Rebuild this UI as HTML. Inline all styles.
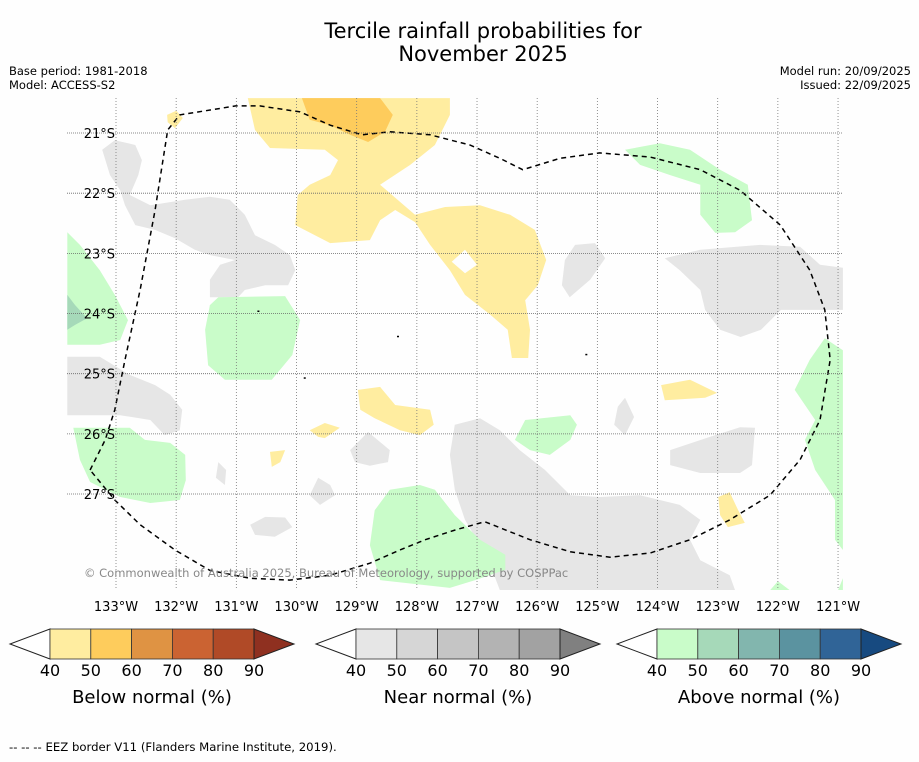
<!DOCTYPE html>
<html><head><meta charset="utf-8">
<style>
html,body{margin:0;padding:0;background:#fefefe;}
body{width:919px;height:758px;overflow:hidden;font-family:"DejaVu Sans","Liberation Sans",sans-serif;}
svg text{font-family:"DejaVu Sans","Liberation Sans",sans-serif;}
</style></head>
<body>
<svg id="chart" width="919" height="758" viewBox="0 0 919 758" xmlns="http://www.w3.org/2000/svg">
<rect x="0" y="0" width="919" height="758" fill="#fefefe"/>
<text x="483" y="38" font-size="21" text-anchor="middle">Tercile rainfall probabilities for</text>
<text x="483" y="61" font-size="21" text-anchor="middle">November 2025</text>
<text x="9" y="75" font-size="11.5">Base period: 1981-2018</text>
<text x="9" y="89" font-size="11.5">Model: ACCESS-S2</text>
<text x="911" y="75" font-size="11.5" text-anchor="end">Model run: 20/09/2025</text>
<text x="911" y="89" font-size="11.5" text-anchor="end">Issued: 22/09/2025</text>
<g id="map"></g>
<g id="legends"></g>
<text x="9" y="751" font-size="11.7">--  --  -- EEZ border V11 (Flanders Marine Institute, 2019).</text>
</svg>
<script>
// axis ticks
const lonTicks = [133,132,131,130,129,128,127,126,125,124,123,122,121];
const latTicks = [21,22,23,24,25,26,27];
const cbTicks = [40,50,60,70,80,90];
const belowColors = ["#ffeda0","#fecc5c","#df9343","#cb6332","#b04a27","#8f3020"];
const nearColors = ["#e6e6e6","#d6d6d6","#c5c5c5","#b3b3b3","#a2a2a2","#808080"];
const aboveColors = ["#c9fcc9","#a6d9b9","#82b6ae","#5b93a0","#306497","#174a80"];
// polygons in [lonW, latS]
const yellowBig = [[130.81,20.42],[127.45,20.42],[127.45,20.70],[127.70,21.20],[128.11,21.53],[128.61,21.86],[128.03,22.36],[127.53,22.23],[126.95,22.20],[126.45,22.36],[126.04,22.61],[125.85,23.11],[125.99,23.53],[126.20,23.78],[126.12,24.27],[126.15,24.74],[126.42,24.74],[126.49,24.27],[126.78,24.02],[127.20,23.69],[127.45,23.28],[127.78,22.86],[128.03,22.48],[128.36,22.28],[128.61,22.45],[128.78,22.78],[129.44,22.83],[130.02,22.53],[129.98,22.03],[129.78,21.86],[129.44,21.70],[129.31,21.45],[129.53,21.28],[130.44,21.25],[130.69,20.95]];
const holeYellow = [[127.42,23.14],[127.20,22.94],[127.00,23.19],[127.20,23.33]];
const orangeTop = [[129.91,20.42],[128.61,20.42],[128.40,20.70],[128.53,20.98],[128.81,21.15],[129.11,21.03],[129.44,20.87],[129.78,20.78]];
const yellowSmall = [
 [[132.15,20.70],[132.0,20.63],[131.89,20.75],[132.02,20.92],[132.14,20.82]],
 [[123.94,25.19],[123.46,25.10],[123.01,25.32],[123.21,25.40],[123.88,25.44]],
 [[128.98,25.27],[128.61,25.22],[128.36,25.52],[127.78,25.60],[127.72,25.85],[127.95,26.02],[128.28,25.94],[128.70,25.74],[128.94,25.60]],
 [[129.78,25.94],[129.53,25.82],[129.28,25.90],[129.53,26.07],[129.64,26.05]],
 [[130.44,26.30],[130.19,26.27],[130.27,26.47],[130.41,26.55]],
 [[122.99,27.05],[122.80,26.97],[122.66,27.27],[122.55,27.48],[122.83,27.55],[122.96,27.35]]
];
const greyAreas = [
 [[133.23,21.28],[133.02,21.12],[132.68,21.20],[132.57,21.45],[132.63,21.70],[132.77,22.03],[132.43,22.20],[131.85,22.11],[131.44,22.06],[131.11,22.11],[130.86,22.36],[130.69,22.70],[130.36,22.86],[130.11,23.03],[130.02,23.28],[130.14,23.53],[130.52,23.53],[130.86,23.61],[130.97,23.73],[131.44,23.73],[131.44,23.44],[131.27,23.19],[131.02,23.11],[131.44,23.03],[131.69,22.94],[132.02,22.75],[132.35,22.61],[132.68,22.53],[132.85,22.20],[132.93,21.95],[133.10,21.70]],
 [[133.81,24.72],[133.27,24.72],[132.77,25.02],[132.35,25.19],[132.10,25.35],[131.90,25.60],[131.94,25.94],[132.19,26.02],[132.43,25.77],[132.93,25.69],[133.81,25.69]],
 [[131.30,26.47],[131.17,26.60],[131.19,26.85],[131.34,26.73]],
 [[129.64,26.73],[129.44,26.85],[129.36,27.02],[129.61,27.18],[129.78,27.02]],
 [[130.77,27.51],[130.52,27.38],[130.19,27.39],[130.07,27.55],[130.36,27.71],[130.69,27.68]],
 [[129.11,26.27],[128.81,25.97],[128.45,26.27],[128.48,26.47],[128.78,26.53],[129.03,26.47]],
 [[125.54,23.11],[125.37,22.86],[125.04,22.83],[124.87,23.08],[125.12,23.44],[125.46,23.73],[125.59,23.53]],
 [[124.66,25.55],[124.54,25.40],[124.39,25.72],[124.54,26.02],[124.72,25.85]],
 [[127.37,25.85],[126.95,25.74],[126.62,25.94],[126.29,26.27],[125.87,26.60],[125.45,27.02],[124.96,27.05],[124.29,27.02],[123.63,27.18],[123.29,27.43],[123.46,27.76],[123.29,28.10],[122.80,28.35],[122.71,28.6],[126.62,28.6],[126.78,28.18],[126.95,27.85],[127.20,27.43],[127.37,26.93],[127.45,26.35]],
 [[123.88,23.08],[123.29,22.94],[122.30,22.86],[121.63,22.89],[121.30,23.19],[120.92,23.24],[120.92,23.94],[121.30,23.94],[121.63,23.94],[121.95,23.94],[122.28,24.27],[122.62,24.39],[122.96,24.27],[123.21,23.94],[123.29,23.61],[123.63,23.28]],
 [[123.79,26.27],[123.13,26.05],[122.63,25.89],[122.38,25.90],[122.43,26.52],[122.63,26.65],[123.29,26.65],[123.79,26.52]]
];
const greenAreas = [
 [[133.81,22.65],[133.60,22.86],[133.27,23.28],[133.02,23.69],[132.80,24.11],[132.93,24.44],[133.27,24.52],[133.81,24.52]],
 [[131.30,23.73],[130.19,23.71],[129.94,24.11],[130.07,24.69],[130.41,25.10],[131.19,25.10],[131.47,24.86],[131.52,24.27],[131.44,23.86]],
 [[133.71,25.90],[132.77,25.90],[132.52,26.10],[132.10,26.15],[131.85,26.35],[131.84,26.77],[131.94,27.10],[132.43,27.15],[132.93,27.05],[133.43,26.80],[133.60,26.43]],
 [[128.45,26.93],[127.95,26.85],[127.70,26.93],[127.37,27.35],[126.95,27.76],[126.53,28.01],[126.53,28.26],[127.03,28.43],[127.45,28.56],[128.61,28.43],[128.78,27.85],[128.70,27.27]],
 [[126.37,26.10],[126.20,25.77],[125.45,25.69],[125.34,25.85],[125.45,26.10],[125.79,26.35],[126.12,26.27]],
 [[124.54,21.28],[123.96,21.17],[123.46,21.28],[122.96,21.61],[122.50,21.86],[122.43,22.45],[122.71,22.65],[123.04,22.66],[123.29,22.36],[123.29,21.86],[123.79,21.70],[124.29,21.53]],
 [[121.72,25.27],[121.47,24.77],[121.22,24.41],[120.92,24.61],[120.92,27.93],[121.05,27.76],[121.05,27.10],[121.38,26.60],[121.55,26.10],[121.38,25.77]],
 [[122.13,28.6],[122.0,28.45],[121.8,28.6]],
 [[121.0,28.6],[120.92,28.4],[120.92,28.6]]
];
const tealAreas = [[[133.81,23.69],[133.68,23.86],[133.48,24.08],[133.68,24.19],[133.81,24.27]]];
const eezLine = [[133.43,26.60],[133.18,26.10],[133.02,25.60],[132.85,24.77],[132.60,23.61],[132.35,22.28],[132.14,20.95],[131.94,20.70],[131.01,20.55],[130.61,20.55],[129.94,20.65],[129.44,20.87],[128.91,21.03],[128.45,20.98],[127.78,21.03],[127.12,21.20],[126.62,21.42],[126.24,21.61],[125.62,21.42],[124.96,21.33],[124.12,21.40],[123.29,21.61],[122.63,21.95],[121.96,22.53],[121.47,23.28],[121.22,23.94],[121.13,24.77],[121.30,25.77],[121.63,26.43],[122.13,27.02],[122.80,27.43],[123.46,27.76],[124.12,27.98],[124.79,28.05],[125.45,27.96],[126.12,27.76],[126.87,27.46],[127.37,27.60],[127.86,27.76],[128.28,27.93],[128.78,28.15],[129.44,28.35],[130.11,28.43],[130.77,28.40],[131.44,28.27],[132.02,27.93],[132.60,27.51],[133.02,27.10],[133.43,26.60]];

const NS = "http://www.w3.org/2000/svg";
const PX = 60.17;
const X0 = 116, Y0 = 133;
function xScale(lonW){ return X0 + (133 - lonW) * PX; }
function yScale(latS){ return Y0 + (latS - 21) * PX; }
const MAPL = 67, MAPR = 843, MAPT = 98, MAPB = 590;
const map = document.getElementById('map');
function mk(tag, attrs, parent){
  const e = document.createElementNS(NS, tag);
  for (const k in attrs) e.setAttribute(k, attrs[k]);
  parent.appendChild(e);
  return e;
}
const defs = mk('defs', {}, map);
const cp = mk('clipPath', {id:'mapclip'}, defs);
mk('rect', {x:MAPL, y:MAPT, width:MAPR-MAPL, height:MAPB-MAPT}, cp);
const layer = mk('g', {'clip-path':'url(#mapclip)'}, map);
function pts(poly){ return poly.map(p => xScale(p[0]).toFixed(1)+','+yScale(p[1]).toFixed(1)).join(' '); }
function drawPolys(list, fill, name){
  list.forEach(poly => {
    const e = mk('polygon', {points: pts(poly), fill: fill}, layer);
    
    
  });
}
drawPolys(greyAreas, nearColors[0], 'near-normal-area');
drawPolys(greenAreas, aboveColors[0], 'above-normal-40-area');
drawPolys(tealAreas, aboveColors[1], 'above-normal-50-area');
drawPolys([yellowBig], belowColors[0], 'below-normal-40-area');
drawPolys(yellowSmall, belowColors[0], 'below-normal-40-area');
drawPolys([holeYellow], '#fefefe', 'below-normal-gap');
drawPolys([orangeTop], belowColors[1], 'below-normal-50-area');

// gridlines
lonTicks.forEach(l => {
  const x = xScale(l);
  const g = mk('line', {x1:x, x2:x, y1:MAPT, y2:MAPB, stroke:'#777', 'stroke-width':0.8, 'stroke-dasharray':'1,2'}, map);
  
  
  const t = mk('text', {x:x, y:611, 'font-size':13, 'text-anchor':'middle'}, map);
  t.textContent = l + '°W';
  
  
});
latTicks.forEach(l => {
  const y = yScale(l);
  const g = mk('line', {x1:MAPL, x2:MAPR, y1:y, y2:y, stroke:'#666', 'stroke-width':0.8, 'stroke-dasharray':'1,1'}, map);
  
  
  const t = mk('text', {x:115, y:y+5, 'font-size':13, 'text-anchor':'end'}, map);
  t.textContent = l + '°S';
  
  
});
// EEZ border
const eez = mk('polyline', {points: pts(eezLine), fill:'none', stroke:'#000', 'stroke-width':1.5, 'stroke-dasharray':'5,4'}, layer);


// small dots
[[130.65,23.95],[128.33,24.37],[125.2,24.67],[129.88,25.06]].forEach(p => {
  const d = mk('rect', {x:xScale(p[0]), y:yScale(p[1]), width:2, height:1.5, fill:'#000'}, layer);
  
  
});
const cr = mk('text', {x:84, y:577, 'font-size':11.5, fill:'#888'}, map);
cr.textContent = '© Commonwealth of Australia 2025, Bureau of Meteorology, supported by COSPPac';



// colorbars
const leg = document.getElementById('legends');
const bars = [
  {x:50, colors:belowColors, title:'Below normal (%)', name:'below-normal-colorbar'},
  {x:356, colors:nearColors, title:'Near normal (%)', name:'near-normal-colorbar'},
  {x:657, colors:aboveColors, title:'Above normal (%)', name:'above-normal-colorbar'}
];
const CW = 40.8, CT = 629, CB = 659;
bars.forEach(b => {
  const g = mk('g', {}, leg);
  
  
  const cm = (CT+CB)/2;
  mk('polygon', {points: `${b.x},${CT} ${b.x-40},${cm} ${b.x},${CB}`, fill:'#fff', stroke:'#222', 'stroke-width':1}, g);
  for (let i=0;i<5;i++){
    mk('rect', {x:b.x+i*CW, y:CT, width:CW, height:CB-CT, fill:b.colors[i], stroke:'#333', 'stroke-width':0.8}, g);
  }
  const xe = b.x+5*CW;
  mk('polygon', {points: `${xe},${CT} ${xe+40},${cm} ${xe},${CB}`, fill:b.colors[5], stroke:'#222', 'stroke-width':1}, g);
  cbTicks.forEach((v,i) => {
    const t = mk('text', {x:b.x+i*CW, y:676, 'font-size':16, 'text-anchor':'middle'}, g);
    t.textContent = v;
    
    
  });
  const tt = mk('text', {x:b.x+2.5*CW, y:703, 'font-size':18, 'text-anchor':'middle'}, g);
  tt.textContent = b.title;
  
  
});
</script>
</body></html>
